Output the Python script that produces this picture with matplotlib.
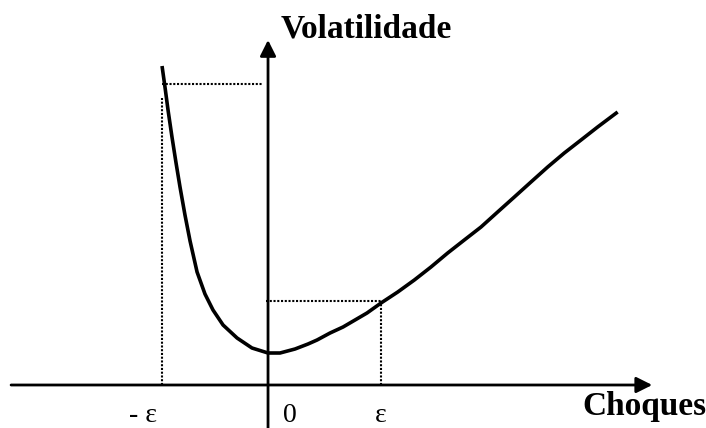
import numpy as np
import matplotlib.pyplot as plt

# curve (x in units of epsilon, y = volatility)
shock = [-0.938, -0.912, -0.885, -0.850, -0.814, -0.779, -0.735, -0.690,
         -0.628, -0.558, -0.487, -0.398, -0.274, -0.142, 0.0, 0.106,
         0.239, 0.354, 0.434, 0.549, 0.664, 0.876, 1.0, 1.148, 1.295,
         1.442, 1.590, 1.737, 1.885, 2.032, 2.180, 2.327, 2.475, 2.622,
         2.770, 2.917, 3.094]
vol = [3.19, 2.98, 2.75, 2.48, 2.22, 1.98, 1.70, 1.44,
       1.13, 0.91, 0.75, 0.60, 0.47, 0.37, 0.32, 0.32,
       0.36, 0.41, 0.45, 0.52, 0.58, 0.72, 0.82, 0.93, 1.05,
       1.18, 1.32, 1.45, 1.58, 1.73, 1.88, 2.03, 2.18, 2.32,
       2.45, 2.58, 2.73]

eps_neg, eps_pos = -0.938, 1.0       # -epsilon and epsilon positions
vol_neg, vol_pos = 3.01, 0.84        # volatility at -epsilon and epsilon

tick_pos = [eps_neg, 0.0, eps_pos]
tick_lab = ['- ε', '0', 'ε']

plt.rcParams['font.family'] = ['Liberation Serif', 'DejaVu Serif']

fig = plt.figure(figsize=(7.06, 4.28), dpi=100)
ax = fig.add_axes([0, 0, 1, 1])
ax.set_xlim(-2.372, 3.876)
ax.set_ylim(-0.43, 3.85)
ax.axis('off')

# axes with arrows
arrow = dict(arrowstyle='-|>', color='black', lw=2.0, mutation_scale=24,
             shrinkA=0, shrinkB=0)
ax.annotate('', xy=(3.40, 0), xytext=(-2.274, 0), arrowprops=arrow)
ax.annotate('', xy=(0, 3.45), xytext=(0, -0.5), arrowprops=arrow)

# dotted guides
dot = dict(color='black', lw=1.5, linestyle=(0, (1, 0.8)))
ax.plot([eps_neg, -0.053], [vol_neg, vol_neg], **dot)
ax.plot([eps_neg, eps_neg], [0, 2.87], **dot)
ax.plot([-0.018, eps_pos], [vol_pos, vol_pos], **dot)
ax.plot([eps_pos, eps_pos], [0, vol_pos], **dot)

# news impact curve
ax.plot(shock, vol, color='black', lw=2.6, solid_joinstyle='round',
        solid_capstyle='butt')

# tick labels under the x-axis
offs = [-0.17, 0.19, 0.0]
for p, lab, o in zip(tick_pos, tick_lab, offs):
    ax.text(p + o, -0.375, lab, ha='center', va='baseline', fontsize=20)

fig.text(366 / 706, 1 - 38 / 428, 'Volatilidade', ha='center', va='baseline',
         fontsize=24, fontweight='bold')
fig.text(582 / 706, 1 - 415 / 428, 'Choques', ha='left', va='baseline',
         fontsize=24, fontweight='bold')

plt.savefig('out.png', dpi=100)
